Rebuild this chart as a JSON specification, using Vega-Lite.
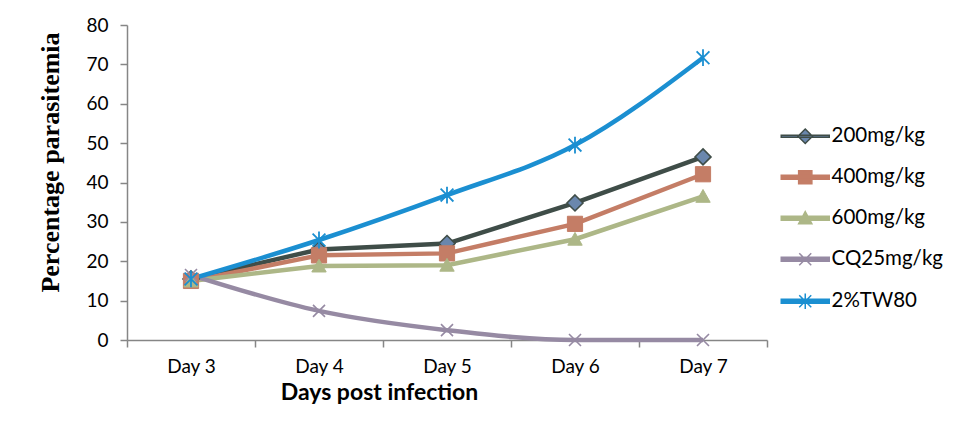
{
  "$schema": "https://vega.github.io/schema/vega-lite/v6.json",
  "autosize": {"type": "none"},
  "width": 640,
  "height": 315,
  "padding": {"left": 127, "top": 25, "right": 188, "bottom": 83},
  "background": "white",
  "config": {
    "view": {"stroke": null},
    "font": "Lato",
    "axis": {"grid": false, "domainColor": "#868686", "tickColor": "#868686", "domainWidth": 1.5, "tickWidth": 1.5, "labelColor": "#000000", "labelFont": "Lato", "titleColor": "#000000"}
  },
  "data": {"values": [
    {"day": "Day 3", "group": "200mg/kg", "value": 15.5},
    {"day": "Day 4", "group": "200mg/kg", "value": 23.0},
    {"day": "Day 5", "group": "200mg/kg", "value": 24.5},
    {"day": "Day 6", "group": "200mg/kg", "value": 34.8},
    {"day": "Day 7", "group": "200mg/kg", "value": 46.5},
    {"day": "Day 3", "group": "400mg/kg", "value": 15.0},
    {"day": "Day 4", "group": "400mg/kg", "value": 21.5},
    {"day": "Day 5", "group": "400mg/kg", "value": 22.0},
    {"day": "Day 6", "group": "400mg/kg", "value": 29.5},
    {"day": "Day 7", "group": "400mg/kg", "value": 42.1},
    {"day": "Day 3", "group": "600mg/kg", "value": 15.0},
    {"day": "Day 4", "group": "600mg/kg", "value": 18.8},
    {"day": "Day 5", "group": "600mg/kg", "value": 19.0},
    {"day": "Day 6", "group": "600mg/kg", "value": 25.6},
    {"day": "Day 7", "group": "600mg/kg", "value": 36.5},
    {"day": "Day 3", "group": "CQ25mg/kg", "value": 16.5},
    {"day": "Day 4", "group": "CQ25mg/kg", "value": 7.4},
    {"day": "Day 5", "group": "CQ25mg/kg", "value": 2.5},
    {"day": "Day 6", "group": "CQ25mg/kg", "value": 0.0},
    {"day": "Day 7", "group": "CQ25mg/kg", "value": 0.0},
    {"day": "Day 3", "group": "2%TW80", "value": 15.5},
    {"day": "Day 4", "group": "2%TW80", "value": 25.4},
    {"day": "Day 5", "group": "2%TW80", "value": 36.8},
    {"day": "Day 6", "group": "2%TW80", "value": 49.5},
    {"day": "Day 7", "group": "2%TW80", "value": 71.7}
  ]},
  "encoding": {
    "x": {
      "field": "day", "type": "nominal",
      "scale": {"type": "band", "paddingInner": 0, "paddingOuter": 0},
      "axis": {
        "title": "Days post infection", "labelAngle": 0, "tickBand": "extent", "tickSize": 7,
        "labelFontSize": 19, "labelPadding": 10,
        "titleFont": "Lato", "titleFontSize": 23, "titleFontWeight": "bold",
        "titleX": 252, "titleY": 52, "titleAlign": "center", "titleBaseline": "middle"
      }
    },
    "y": {
      "field": "value", "type": "quantitative",
      "scale": {"domain": [0, 80], "nice": false},
      "axis": {
        "title": "Percentage parasitemia", "values": [0, 10, 20, 30, 40, 50, 60, 70, 80], "tickSize": 7,
        "labelFontSize": 19, "labelPadding": 12,
        "titleFont": "Liberation Serif", "titleFontSize": 26, "titleFontWeight": "bold",
        "titleX": -77, "titleY": 137, "titleAngle": -90, "titleAlign": "center", "titleBaseline": "middle"
      }
    }
  },
  "layer": [
    {
      "transform": [{"filter": "datum.group === '200mg/kg' || datum.group === '400mg/kg' || datum.group === '600mg/kg'"}],
      "mark": {"type": "line", "strokeWidth": 4.5, "clip": false},
      "encoding": {
        "color": {
          "field": "group", "type": "nominal",
          "scale": {
            "domain": ["200mg/kg", "400mg/kg", "600mg/kg", "CQ25mg/kg", "2%TW80"],
            "range": ["#3f4d48", "#c47d66", "#adb787", "#968aa3", "#1b8fd1"]
          },
          "legend": {
            "title": null, "orient": "none", "legendX": 668, "legendY": 101,
            "symbolSize": 144, "symbolStrokeWidth": 1.5, "labelFont": "Lato", "labelFontSize": 20.5,
            "labelColor": "#000000", "labelOffset": 16, "rowPadding": 20,
            "values": ["200mg/kg", "400mg/kg", "600mg/kg", "CQ25mg/kg", "2%TW80"],
            "encode": {
              "symbols": {
                "update": {
                  "shape": {"signal": "datum.value === '200mg/kg' ? 'M-4,-0.17L4,-0.17L4,0.17L-4,0.17Z M0,-1.2L1.2,0L0,1.2L-1.2,0Z' : datum.value === '400mg/kg' ? 'M-4,-0.33L4,-0.33L4,0.33L-4,0.33Z M-1.1,-1.1L1.1,-1.1L1.1,1.1L-1.1,1.1Z' : datum.value === '600mg/kg' ? 'M-4,-0.33L4,-0.33L4,0.33L-4,0.33Z M0,-1.1L1.1,0.9L-1.1,0.9Z' : datum.value === 'CQ25mg/kg' ? 'M-4,-0.33L4,-0.33L4,0.33L-4,0.33Z M-1,-1L1,1M-1,1L1,-1' : 'M-4,-0.33L4,-0.33L4,0.33L-4,0.33Z M-1,-1L1,1M-1,1L1,-1M0,-1.3L0,1.3'"},
                  "fill": {"signal": "datum.value === '200mg/kg' ? '#6a87ad' : datum.value === '400mg/kg' ? '#c47d66' : datum.value === '600mg/kg' ? '#adb787' : datum.value === 'CQ25mg/kg' ? '#968aa3' : '#1b8fd1'"},
                  "stroke": {"signal": "datum.value === '200mg/kg' ? '#3f4d48' : datum.value === '400mg/kg' ? '#c47d66' : datum.value === '600mg/kg' ? '#adb787' : datum.value === 'CQ25mg/kg' ? '#968aa3' : '#1b8fd1'"},
                  "strokeWidth": {"value": 1.5},
                  "opacity": {"value": 1}
                }
              }
            }
          }
        }
      }
    },
    {
      "transform": [{"filter": "datum.group === 'CQ25mg/kg' || datum.group === '2%TW80'"}],
      "mark": {"type": "line", "strokeWidth": 4.5, "interpolate": "monotone", "clip": false},
      "encoding": {
        "color": {"field": "group", "type": "nominal"}
      }
    },
    {
      "transform": [{"filter": "datum.group === '200mg/kg'"}],
      "mark": {"type": "point", "shape": "M0,-1L1,0L0,1L-1,0Z", "size": 256, "filled": true, "fill": "#6a87ad", "stroke": "#3f4d48", "strokeWidth": 1.6, "opacity": 1, "clip": false},
      "encoding": {}
    },
    {
      "transform": [{"filter": "datum.group === '400mg/kg'"}],
      "mark": {"type": "point", "shape": "M-0.95,-0.95L0.95,-0.95L0.95,0.95L-0.95,0.95Z", "size": 256, "filled": true, "fill": "#c47d66", "stroke": "#c47d66", "strokeWidth": 1, "opacity": 1, "clip": false},
      "encoding": {}
    },
    {
      "transform": [{"filter": "datum.group === '600mg/kg'"}],
      "mark": {"type": "point", "shape": "M0,-0.85L0.9,0.75L-0.9,0.75Z", "size": 256, "filled": true, "fill": "#adb787", "stroke": "#adb787", "strokeWidth": 1, "opacity": 1, "clip": false},
      "encoding": {}
    },
    {
      "transform": [{"filter": "datum.group === 'CQ25mg/kg'"}],
      "mark": {"type": "point", "shape": "M-0.75,-0.75L0.75,0.75M-0.75,0.75L0.75,-0.75", "size": 256, "filled": false, "stroke": "#968aa3", "strokeWidth": 1.6, "opacity": 1, "clip": false},
      "encoding": {}
    },
    {
      "transform": [{"filter": "datum.group === '2%TW80'"}],
      "mark": {"type": "point", "shape": "M-0.8,-0.8L0.8,0.8M-0.8,0.8L0.8,-0.8M0,-1.05L0,1.05", "size": 256, "filled": false, "stroke": "#1b8fd1", "strokeWidth": 1.8, "opacity": 1, "clip": false},
      "encoding": {}
    }
  ]
}
